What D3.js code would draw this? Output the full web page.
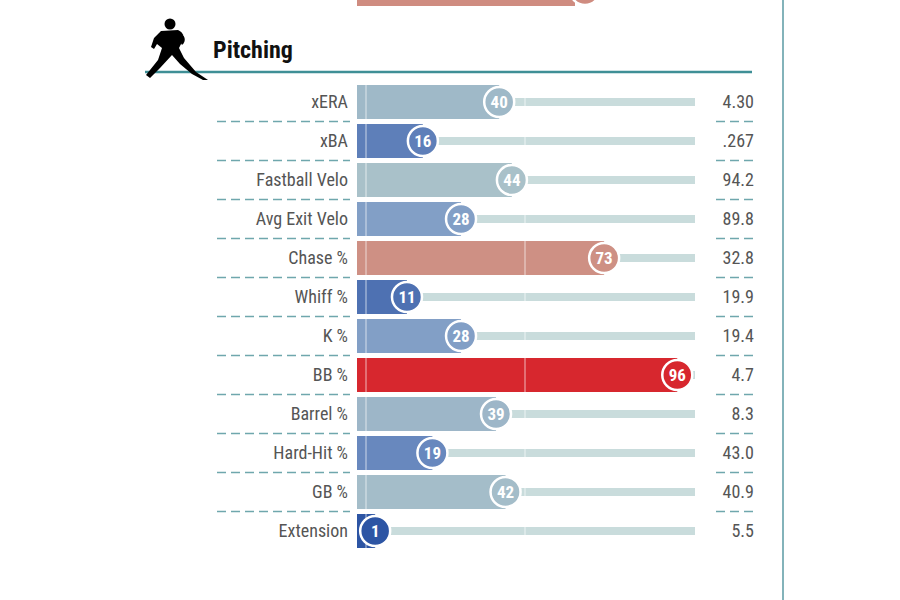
<!DOCTYPE html>
<html>
<head>
<meta charset="utf-8">
<script src="https://cdn.jsdelivr.net/npm/d3@7"></script>
<style>
  body { margin: 0; background: #fff; }
  text { font-family: "Liberation Sans Narrow", "Roboto Condensed", "Roboto", sans-serif; }
</style>
</head>
<body>
<svg id="chart" width="900" height="600"></svg>
<script>
var metrics = ["xERA", "xBA", "Fastball Velo", "Avg Exit Velo", "Chase %", "Whiff %", "K %", "BB %", "Barrel %", "Hard-Hit %", "GB %", "Extension"];
var percentiles = [40, 16, 44, 28, 73, 11, 28, 96, 39, 19, 42, 1];
var values = ["4.30", ".267", "94.2", "89.8", "32.8", "19.9", "19.4", "4.7", "8.3", "43.0", "40.9", "5.5"];

var svg = d3.select("#chart");
var barLeft = 357, rowH = 39, top0 = 102, barH = 34;

var x = d3.scaleLinear().domain([0, 100]).range([372, 690]);
var y = d3.scaleBand().domain(metrics).range([top0 - rowH / 2, top0 - rowH / 2 + rowH * metrics.length]);
var color = d3.scaleLinear().domain([0, 25, 45, 60, 75, 100])
    .range(["#2a52a3", "#7b99c6", "#abc3c9", "#c9b5b0", "#cf8a7d", "#d9141f"]).interpolate(d3.interpolateRgb);

// previous section's last bar, cut off at the top
svg.append("rect").attr("x", barLeft).attr("y", -30).attr("width", 575 - barLeft).attr("height", 36).attr("fill", "#cf8c80");
svg.append("circle").attr("cx", 585).attr("cy", -10).attr("r", 15).attr("fill", "#cf8c80").attr("stroke", "#fff").attr("stroke-width", 2.5);

// right border
svg.append("line").attr("x1", 783).attr("x2", 783).attr("y1", 0).attr("y2", 600).attr("stroke", "#5a9aa3").attr("stroke-width", 1.5);

// header
svg.append("line").attr("x1", 145).attr("x2", 752).attr("y1", 72).attr("y2", 72).attr("stroke", "#3f8f96").attr("stroke-width", 2.5);
svg.append("text").attr("x", 213).attr("y", 58).attr("font-size", 24).attr("font-weight", "bold").attr("fill", "#111").text("Pitching");

// pitcher silhouette
var icon = svg.append("g").attr("transform", "translate(146,18)").attr("fill", "#000");
icon.append("circle").attr("cx", 24).attr("cy", 6).attr("r", 5.5);
icon.append("path").attr("d", "M15,13 L32,12 C37,14 39,19 36,24 L33,30 L38,40 L50,54 L62,62 L57,62 L46,56 L34,46 L26,37 L14,50 L4,60 L0,57 L12,42 L16,30 L11,26 L8,31 L5,29 L8,20 Z");
icon.append("path").attr("d", "M32,14 C39,16 41,23 36,27 L33,22 Z");

var rows = svg.append("g").selectAll("g").data(metrics).join("g")
    .attr("transform", function (d) { return "translate(0," + (y(d) + y.bandwidth() / 2) + ")"; });

// track
rows.append("rect").attr("x", function (d, i) { return x(percentiles[i]); })
    .attr("y", -4).attr("height", 8)
    .attr("width", function (d, i) { return 695 - x(percentiles[i]); })
    .attr("fill", "#c9dcdc");

// bar
rows.append("rect").attr("x", barLeft).attr("y", -barH / 2).attr("height", barH)
    .attr("width", function (d, i) { return x(percentiles[i]) - barLeft; })
    .attr("fill", function (d, i) { return color(percentiles[i]); });

// white grid lines
[0, 50].forEach(function (t) {
    rows.append("line").attr("x1", x(t) - 6).attr("x2", x(t) - 6)
        .attr("y1", -barH / 2).attr("y2", barH / 2)
        .attr("stroke", "#fff").attr("stroke-opacity", 0.45).attr("stroke-width", 1.5);
});

rows.append("circle").attr("cx", function (d, i) { return x(percentiles[i]); })
    .attr("r", 15).attr("fill", function (d, i) { return color(percentiles[i]); })
    .attr("stroke", "#fff").attr("stroke-width", 2.5);
rows.append("text").attr("x", function (d, i) { return x(percentiles[i]); })
    .attr("dy", "0.36em").attr("text-anchor", "middle").attr("font-size", 17)
    .attr("font-weight", "bold").attr("fill", "#fff")
    .text(function (d, i) { return percentiles[i]; });

rows.append("text").attr("x", 348).attr("dy", "0.36em").attr("text-anchor", "end")
    .attr("font-size", 18).attr("fill", "#555").text(function (d) { return d; });
rows.append("text").attr("x", 754).attr("dy", "0.36em").attr("text-anchor", "end")
    .attr("font-size", 18).attr("fill", "#555").text(function (d, i) { return values[i]; });

// dashed separators
rows.filter(function (d, i) { return i < metrics.length - 1; }).each(function () {
    var g = d3.select(this);
    [[217, 350], [716, 755]].forEach(function (s) {
        g.append("line").attr("x1", s[0]).attr("x2", s[1]).attr("y1", rowH / 2).attr("y2", rowH / 2)
            .attr("stroke", "#6fa7ad").attr("stroke-width", 1.5).attr("stroke-dasharray", "9,5");
    });
});
</script>
</body>
</html>
